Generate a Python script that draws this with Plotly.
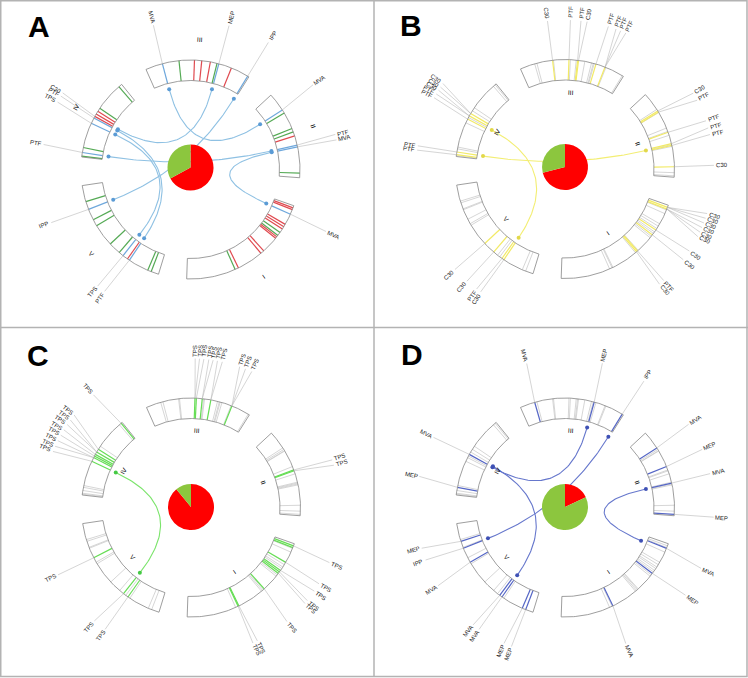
import numpy as np
import plotly.graph_objects as go

# ---------------- data ----------------
chrom_names = ["I", "II", "III", "IV", "V"]
chrom_len_mb = [30.4, 19.7, 23.5, 18.6, 27.0]

panel_letters = ["A", "B", "C", "D"]
pie_red = [67, 71, 89, 18]
pie_green = [33, 29, 11, 82]

# features: (chromosome, position Mb, colour key)
A_features = [
    ("III", 19.7, "b"), ("III", 16.0, "g"), ("III", 12.6, "r"), ("III", 11.0, "r"), ("III", 9.1, "r"),
    ("III", 7.6, "g"), ("III", 7.2, "b"), ("III", 4.3, "r"), ("III", 0.3, "b"),
    ("II", 15.6, "b"), ("II", 14.8, "g"), ("II", 11.0, "g"), ("II", 10.2, "g"), ("II", 9.3, "r"),
    ("II", 7.2, "b"), ("II", 6.8, "b"), ("II", 1.0, "g"),
    ("I", 29.9, "r"), ("I", 29.5, "r"), ("I", 28.4, "b"), ("I", 25.9, "r"), ("I", 25.3, "r"), ("I", 24.7, "r"),
    ("I", 23.8, "g"), ("I", 23.0, "g"), ("I", 22.6, "r"), ("I", 22.2, "r"), ("I", 18.4, "r"), ("I", 17.6, "r"),
    ("I", 11.7, "r"), ("I", 10.9, "g"),
    ("IV", 0.8, "g"), ("IV", 7.1, "g"), ("IV", 7.9, "r"), ("IV", 8.6, "r"), ("IV", 9.2, "r"), ("IV", 9.6, "b"),
    ("IV", 10.9, "b"), ("IV", 16.5, "g"), ("IV", 17.6, "b"), ("IV", 18.4, "g"),
    ("V", 3.6, "g"), ("V", 5.4, "b"), ("V", 7.9, "g"), ("V", 9.4, "g"), ("V", 14.4, "g"), ("V", 17.1, "g"),
    ("V", 18.2, "b"), ("V", 19.4, "r"), ("V", 19.9, "b"), ("V", 24.5, "g"), ("V", 25.3, "g"),
]
B_features = [(c, p, "y") for c, p in [
    ("III", 16.2), ("III", 12.6), ("III", 10.7), ("III", 10.5), ("III", 6.6), ("III", 4.5),
    ("II", 15.2), ("II", 14.9), ("II", 10.0), ("II", 7.4), ("II", 7.0), ("II", 2.3),
    ("I", 29.9), ("I", 29.5), ("I", 24.3), ("I", 23.0), ("I", 18.2), ("I", 17.9),
    ("IV", 8.6), ("IV", 9.2), ("IV", 10.0), ("IV", 17.6), ("IV", 18.2),
    ("V", 14.4), ("V", 17.1), ("V", 19.4), ("V", 19.9)]]
C_features = [(c, p, "c") for c, p in [
    ("III", 12.6), ("III", 12.3), ("III", 11.0), ("III", 9.1), ("III", 4.3),
    ("II", 10.2), ("II", 10.0),
    ("I", 29.9), ("I", 29.5), ("I", 25.9), ("I", 23.8), ("I", 23.4), ("I", 23.0), ("I", 18.4), ("I", 11.7), ("I", 11.5),
    ("IV", 0.3), ("IV", 7.9), ("IV", 8.6), ("IV", 9.2), ("IV", 9.6), ("IV", 10.0), ("IV", 10.9),
    ("V", 7.9), ("V", 18.2), ("V", 19.4)]]
D_features = [(c, p, "d") for c, p in [
    ("III", 20.2), ("III", 7.0), ("III", 0.3),
    ("II", 15.6), ("II", 11.0), ("II", 7.2), ("II", 0.3),
    ("I", 29.3), ("I", 23.0), ("I", 11.7),
    ("IV", 9.2), ("IV", 16.9),
    ("V", 4.0), ("V", 5.6), ("V", 9.0), ("V", 18.8), ("V", 19.4), ("V", 24.5), ("V", 25.3)]]

# labels: (chromosome, feature position, label position, text)
A_labels = [
    ("III", 19.7, 19.5, "MVA"), ("III", 7.2, 7.2, "MEP"), ("III", 0.3, 0.3, "IPP"),
    ("II", 15.6, 16.3, "MVA"), ("II", 7.2, 7.5, "PTF"), ("II", 6.8, 6.6, "MVA"),
    ("I", 28.4, 28.2, "MVA"),
    ("IV", 9.2, 8.4, "C30"), ("IV", 9.6, 9.0, "PTF"), ("IV", 10.9, 10.1, "TPS"), ("IV", 17.6, 17.3, "PTF"),
    ("V", 5.4, 5.2, "IPP"), ("V", 18.2, 18.0, "TPS"), ("V", 19.9, 19.4, "PTF"),
]
B_labels = [
    ("III", 16.2, 16.3, "C30"), ("III", 12.6, 12.6, "PTF"), ("III", 10.7, 10.9, "PTF"), ("III", 10.5, 9.9, "C30"),
    ("III", 6.6, 6.4, "PTF"), ("III", 4.5, 5.1, "PTF"), ("III", 4.5, 4.3, "PTF"), ("III", 4.5, 3.4, "PTF"),
    ("II", 15.2, 14.6, "C30"), ("II", 14.9, 13.3, "PTF"), ("II", 10.0, 9.7, "PTF"), ("II", 7.4, 8.5, "PTF"),
    ("II", 7.0, 7.4, "PTF"), ("II", 2.3, 2.4, "C30"),
    ("I", 29.9, 31.2, "C30"), ("I", 29.9, 30.4, "C30"), ("I", 29.9, 29.6, "C30"), ("I", 29.5, 28.8, "C30"),
    ("I", 29.5, 28.0, "C30"), ("I", 29.5, 27.2, "C30"), ("I", 24.3, 24.5, "C30"), ("I", 23.0, 22.8, "C30"),
    ("I", 18.2, 18.2, "PTF"), ("I", 17.9, 17.3, "C30"),
    ("IV", 8.6, 6.7, "C30"), ("IV", 8.6, 7.4, "C30"), ("IV", 9.2, 8.0, "C30"), ("IV", 9.2, 8.7, "PTF"),
    ("IV", 10.0, 9.4, "PTF"), ("IV", 17.6, 17.6, "PTF"), ("IV", 18.2, 18.3, "PTF"),
    ("V", 14.4, 14.2, "C30"), ("V", 17.1, 16.9, "C30"), ("V", 19.4, 18.9, "PTF"), ("V", 19.9, 19.7, "C30"),
]
C_labels = [
    ("III", 12.6, 12.8, "TPS"), ("III", 12.6, 12.1, "TPS"), ("III", 12.3, 11.4, "TPS"), ("III", 11.0, 10.6, "TPS"),
    ("III", 11.0, 9.9, "TPS"), ("III", 9.1, 9.2, "TPS"), ("III", 9.1, 8.4, "TPS"),
    ("III", 4.3, 5.5, "TPS"), ("III", 4.3, 4.5, "TPS"), ("III", 4.3, 3.4, "TPS"),
    ("II", 10.2, 9.6, "TPS"), ("II", 10.0, 8.7, "TPS"),
    ("I", 29.9, 29.4, "TPS"), ("I", 25.9, 25.6, "TPS"), ("I", 23.8, 24.2, "TPS"), ("I", 23.4, 22.3, "TPS"),
    ("I", 23.0, 21.7, "TPS"), ("I", 18.4, 17.6, "TPS"), ("I", 11.7, 11.9, "TPS"), ("I", 11.5, 11.1, "TPS"),
    ("IV", 0.3, 0.8, "TPS"), ("IV", 7.9, 5.3, "TPS"), ("IV", 8.6, 6.3, "TPS"), ("IV", 8.6, 7.2, "TPS"),
    ("IV", 9.2, 8.2, "TPS"), ("IV", 9.6, 9.2, "TPS"), ("IV", 10.0, 10.2, "TPS"), ("IV", 10.0, 11.2, "TPS"),
    ("IV", 10.9, 12.1, "TPS"),
    ("V", 7.9, 7.7, "TPS"), ("V", 18.2, 17.2, "TPS"), ("V", 19.4, 19.4, "TPS"),
]
D_labels = [
    ("III", 20.2, 19.7, "MVA"), ("III", 7.0, 7.4, "MEP"), ("III", 0.3, 0.1, "IPP"),
    ("II", 15.6, 16.0, "MVA"), ("II", 11.0, 11.4, "MEP"), ("II", 7.2, 7.3, "MVA"), ("II", 0.3, 0.25, "MEP"),
    ("I", 29.3, 28.4, "MVA"), ("I", 23.0, 23.4, "MEP"), ("I", 11.7, 10.9, "MVA"),
    ("IV", 9.2, 9.6, "MVA"), ("IV", 16.9, 16.3, "MEP"),
    ("V", 4.0, 3.1, "MEP"), ("V", 5.6, 5.1, "IPP"), ("V", 9.0, 9.7, "MVA"), ("V", 18.8, 18.2, "MVA"),
    ("V", 19.4, 19.4, "MVA"), ("V", 24.5, 24.0, "MEP"), ("V", 25.3, 25.3, "MEP"),
]

# links: (chrom1, pos1, chrom2, pos2)
A_links = [("III", 19.7, "II", 15.6), ("III", 7.2, "IV", 9.2), ("III", 0.3, "V", 5.4),
           ("II", 6.8, "I", 28.4), ("IV", 17.6, "II", 7.2), ("IV", 9.6, "V", 19.9), ("IV", 10.9, "V", 18.2)]
B_links = [("IV", 17.6, "II", 7.2), ("IV", 9.6, "V", 19.9)]
C_links = [("IV", 10.9, "V", 18.2)]
D_links = [("II", 7.2, "I", 28.6), ("III", 7.0, "IV", 9.2), ("III", 0.3, "V", 5.6), ("IV", 8.9, "V", 19.4)]

# ---------------- styling / geometry ----------------
feature_colors = {"r": "#e04a50", "g": "#55aa55", "b": "#6fa8dc", "y": "#f2ea66",
                  "c": "#66dd55", "d": "#5566c6"}
link_colors = ["#8fc1e3", "#f3ee74", "#7be46b", "#6677cc"]
dot_colors = ["#5b9bd5", "#e2d84a", "#44c944", "#3f51b5"]
ring_centers = [(190.5, 169.5), (565.0, 169.0), (191.0, 507.5), (565.0, 507.5)]
pie_centers = [(190.5, 167.5), (565.0, 167.0), (191.0, 507.0), (565.0, 507.0)]
letter_pos = [(38.5, 26), (410.5, 25), (37.5, 355), (411.5, 354)]
chrom_label_r = [130, 77, 77, 77]
R_IN, R_OUT, R_DOT = 89.0, 109.5, 83.0
R_LEAD, R_TXT = 149.0, 151.0
PIE_R = 23.0
W, H = 748, 678
GAP, START = 15.0, -92.0

k = (360 - 5 * GAP) / sum(chrom_len_mb)
chrom_start = {}
a = START
for n, L in zip(chrom_names, chrom_len_mb):
    chrom_start[n] = a
    a += L * k + GAP


def ang(ch, pos):
    return chrom_start[ch] + pos * k


def xy(c, r, a_deg):
    t = np.deg2rad(a_deg)
    return c[0] + r * np.cos(t), c[1] - r * np.sin(t)


def radial_angle(a_deg):
    a_deg = ((a_deg + 180) % 360) - 180
    if -90 <= a_deg <= 90:
        return -a_deg
    t = 180 - a_deg
    return ((t + 180) % 360) - 180


def tangential_angle(a_deg):
    t = 90 - a_deg
    while t > 90:
        t -= 180
    while t < -90:
        t += 180
    return t


panels = [
    (A_features, A_labels, A_links),
    (B_features, B_labels, B_links),
    (C_features, C_labels, C_links),
    (D_features, D_labels, D_links),
]
all_positions = sorted({(c, p) for feats, _, _ in panels for c, p, _ in feats})

fig = go.Figure()
annotations = []

for pi, (feats, labels, links) in enumerate(panels):
    cen = ring_centers[pi]
    # background gray marks
    if pi > 0:
        own = {(c, p) for c, p, _ in feats}
        gx, gy = [], []
        for c, p in all_positions:
            if (c, p) in own:
                continue
            a_ = ang(c, p)
            x0, y0 = xy(cen, R_IN, a_)
            x1, y1 = xy(cen, R_OUT, a_)
            gx += [x0, x1, None]
            gy += [y0, y1, None]
        fig.add_trace(go.Scatter(x=gx, y=gy, mode="lines", line=dict(color="#cccccc", width=0.8),
                                 hoverinfo="skip", showlegend=False))
    # coloured marks
    for key in sorted({f[2] for f in feats}):
        fx, fy = [], []
        for c, p, kk in feats:
            if kk != key:
                continue
            a_ = ang(c, p)
            x0, y0 = xy(cen, R_IN, a_)
            x1, y1 = xy(cen, R_OUT, a_)
            fx += [x0, x1, None]
            fy += [y0, y1, None]
        fig.add_trace(go.Scatter(x=fx, y=fy, mode="lines", line=dict(color=feature_colors[key], width=1.2),
                                 hoverinfo="skip", showlegend=False))
    # chromosome outlines
    ox, oy = [], []
    for n, L in zip(chrom_names, chrom_len_mb):
        th = np.linspace(ang(n, 0), ang(n, L), 80)
        xo, yo = xy(cen, R_OUT, th)
        xi, yi = xy(cen, R_IN, th[::-1])
        ox += list(xo) + list(xi) + [xo[0], None]
        oy += list(yo) + list(yi) + [yo[0], None]
        la = ang(n, L / 2)
        lx, ly = xy(cen, chrom_label_r[pi], la)
        annotations.append(dict(x=lx, y=ly, text=n, showarrow=False, xanchor="center", yanchor="middle",
                                textangle=tangential_angle(la),
                                font=dict(size=6.5, color="#000000", family="Arial")))
    fig.add_trace(go.Scatter(x=ox, y=oy, mode="lines", line=dict(color="#858585", width=0.8),
                             hoverinfo="skip", showlegend=False))
    # leader lines + labels
    lx_, ly_ = [], []
    for c, fp, lp, txt in labels:
        af, al = ang(c, fp), ang(c, lp)
        x0, y0 = xy(cen, R_OUT, af)
        x1, y1 = xy(cen, R_LEAD, al)
        lx_ += [x0, x1, None]
        ly_ += [y0, y1, None]
        wtxt = 0.68 * 6 * len(txt)
        tx, ty = xy(cen, R_TXT + wtxt / 2, al)
        annotations.append(dict(x=tx, y=ty, text=txt, showarrow=False, xanchor="center", yanchor="middle",
                                textangle=radial_angle(al),
                                font=dict(size=6, color="#1a1a1a", family="Arial")))
    fig.add_trace(go.Scatter(x=lx_, y=ly_, mode="lines", line=dict(color="#b8b8b8", width=0.6),
                             hoverinfo="skip", showlegend=False))
    # links
    kx, ky, dx, dy = [], [], [], []
    t = np.linspace(0, 1, 60)
    for c1, p1, c2, p2 in links:
        P0 = np.array(xy(cen, R_DOT, ang(c1, p1)))
        P2 = np.array(xy(cen, R_DOT, ang(c2, p2)))
        C = np.array(cen)
        B = ((1 - t) ** 2)[:, None] * P0 + (2 * (1 - t) * t)[:, None] * C + (t ** 2)[:, None] * P2
        kx += list(B[:, 0]) + [None]
        ky += list(B[:, 1]) + [None]
        dx += [P0[0], P2[0]]
        dy += [P0[1], P2[1]]
    fig.add_trace(go.Scatter(x=kx, y=ky, mode="lines", line=dict(color=link_colors[pi], width=1.1),
                             hoverinfo="skip", showlegend=False))
    fig.add_trace(go.Scatter(x=dx, y=dy, mode="markers", marker=dict(color=dot_colors[pi], size=4),
                             hoverinfo="skip", showlegend=False))
    # pie
    pc = pie_centers[pi]
    fig.add_trace(go.Pie(values=[pie_red[pi], pie_green[pi]], labels=["red", "green"], sort=False,
                         direction="clockwise", rotation=0, textinfo="none", hoverinfo="skip",
                         marker=dict(colors=["#ff0000", "#8cc63e"], line=dict(width=0)), showlegend=False,
                         domain=dict(x=[(pc[0] - PIE_R) / W, (pc[0] + PIE_R) / W],
                                     y=[1 - (pc[1] + PIE_R) / H, 1 - (pc[1] - PIE_R) / H])))
    # panel letter
    annotations.append(dict(x=letter_pos[pi][0], y=letter_pos[pi][1], text="<b>%s</b>" % panel_letters[pi],
                            showarrow=False, xanchor="center", yanchor="middle",
                            font=dict(size=30, color="#000000", family="Arial")))

shapes = [
    dict(type="rect", x0=0.75, y0=0.75, x1=747, y1=676.5, line=dict(color="#b3b3b3", width=1.5)),
    dict(type="line", x0=374, x1=374, y0=0, y1=677, line=dict(color="#b3b3b3", width=1.5)),
    dict(type="line", x0=0, x1=748, y0=327.5, y1=327.5, line=dict(color="#b3b3b3", width=1.5)),
]

fig.update_layout(
    width=W, height=H, margin=dict(l=0, r=0, t=0, b=0),
    paper_bgcolor="white", plot_bgcolor="white", showlegend=False,
    xaxis=dict(range=[0, W], visible=False, fixedrange=True),
    yaxis=dict(range=[H, 0], visible=False, fixedrange=True),
    annotations=annotations, shapes=shapes,
)

fig.write_html("out.html", config={"displayModeBar": False},
               post_script="document.body.style.margin='0';")
